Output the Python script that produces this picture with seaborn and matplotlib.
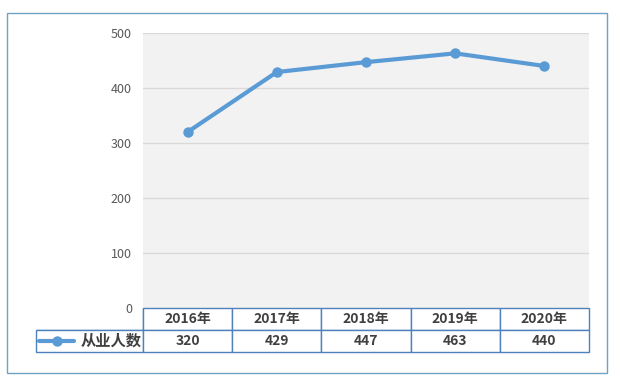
import matplotlib
matplotlib.use("Agg")
import matplotlib.pyplot as plt
import seaborn as sns
import pandas as pd
from matplotlib.patches import Rectangle

# data
years = ["2016年", "2017年", "2018年", "2019年", "2020年"]
workers = [320, 429, 447, 463, 440]
series_name = "从业人数"
y_ticks = [0, 100, 200, 300, 400, 500]

sns.set_style("white")
plt.rcParams['font.family'] = ['Noto Sans CJK SC', 'DejaVu Sans']

W, H = 620, 386
fig = plt.figure(figsize=(W / 100, H / 100), dpi=100)
fig.patch.set_facecolor('white')

# plot area in pixels: x 143..589, y 33..308
ax = fig.add_axes([143 / W, 1 - 308 / H, (589 - 143) / W, (308 - 33) / H])
ax.set_facecolor('#F2F2F2')

df = pd.DataFrame({'year': years, 'value': workers})
sns.lineplot(data=df, x='year', y='value', ax=ax, color='#5B9BD5',
             linewidth=3, marker='o', markersize=7.5, markeredgewidth=0,
             label=series_name, zorder=5)

ax.set_xlim(-0.5, len(years) - 0.5)
ax.set_ylim(0, 500)
ax.set_yticks(y_ticks)
ax.set_yticklabels([str(t) for t in y_ticks], fontsize=9, color='#595959')
ax.tick_params(axis='y', length=0, pad=8)
ax.set_xticks([])
ax.set_xlabel('')
ax.set_ylabel('')
ax.grid(axis='y', color='#D9D9D9', linewidth=1)
for s in ax.spines.values():
    s.set_visible(False)

# data table under the plot (first column holds the legend)
edge = '#4F81BD'
ax_h = 308 - 33
ax_w = 589 - 143
cells = [[''] + years, [''] + [str(v) for v in workers]]
tbl = ax.table(cellText=cells, cellLoc='center',
               bbox=[(36 - 143) / ax_w, -(352 - 308) / ax_h,
                     (589 - 36) / ax_w, (352 - 308) / ax_h])
tbl.auto_set_font_size(False)
col_w = (589 - 143) / len(years)
for (r, c), cell in tbl.get_celld().items():
    cell.set_edgecolor(edge)
    cell.set_linewidth(1)
    cell.set_facecolor('white')
    cell.get_text().set_fontsize(10)
    cell.get_text().set_fontweight('bold')
    cell.get_text().set_color('#404040')
    cell.set_width(107 if c == 0 else col_w)
tbl[(0, 0)].visible_edges = 'BR'
tbl[(0, 0)].set_facecolor('none')

# legend sits in the first cell of the value row
leg = ax.legend(loc='center left', bbox_to_anchor=(39 / W, 1 - 341 / H),
                bbox_transform=fig.transFigure, frameon=False,
                handlelength=2.3, handletextpad=0.45, borderaxespad=0,
                borderpad=0, prop={'size': 11, 'weight': 'bold'})
for t in leg.get_texts():
    t.set_color('#404040')

# outer chart frame
fig.patches.append(Rectangle((7 / W, 1 - 373 / H), (607 - 7) / W, (373 - 13) / H,
                             transform=fig.transFigure, fill=False,
                             edgecolor='#6FA3C4', linewidth=1))

fig.savefig('out.png', dpi=100, facecolor='white')
